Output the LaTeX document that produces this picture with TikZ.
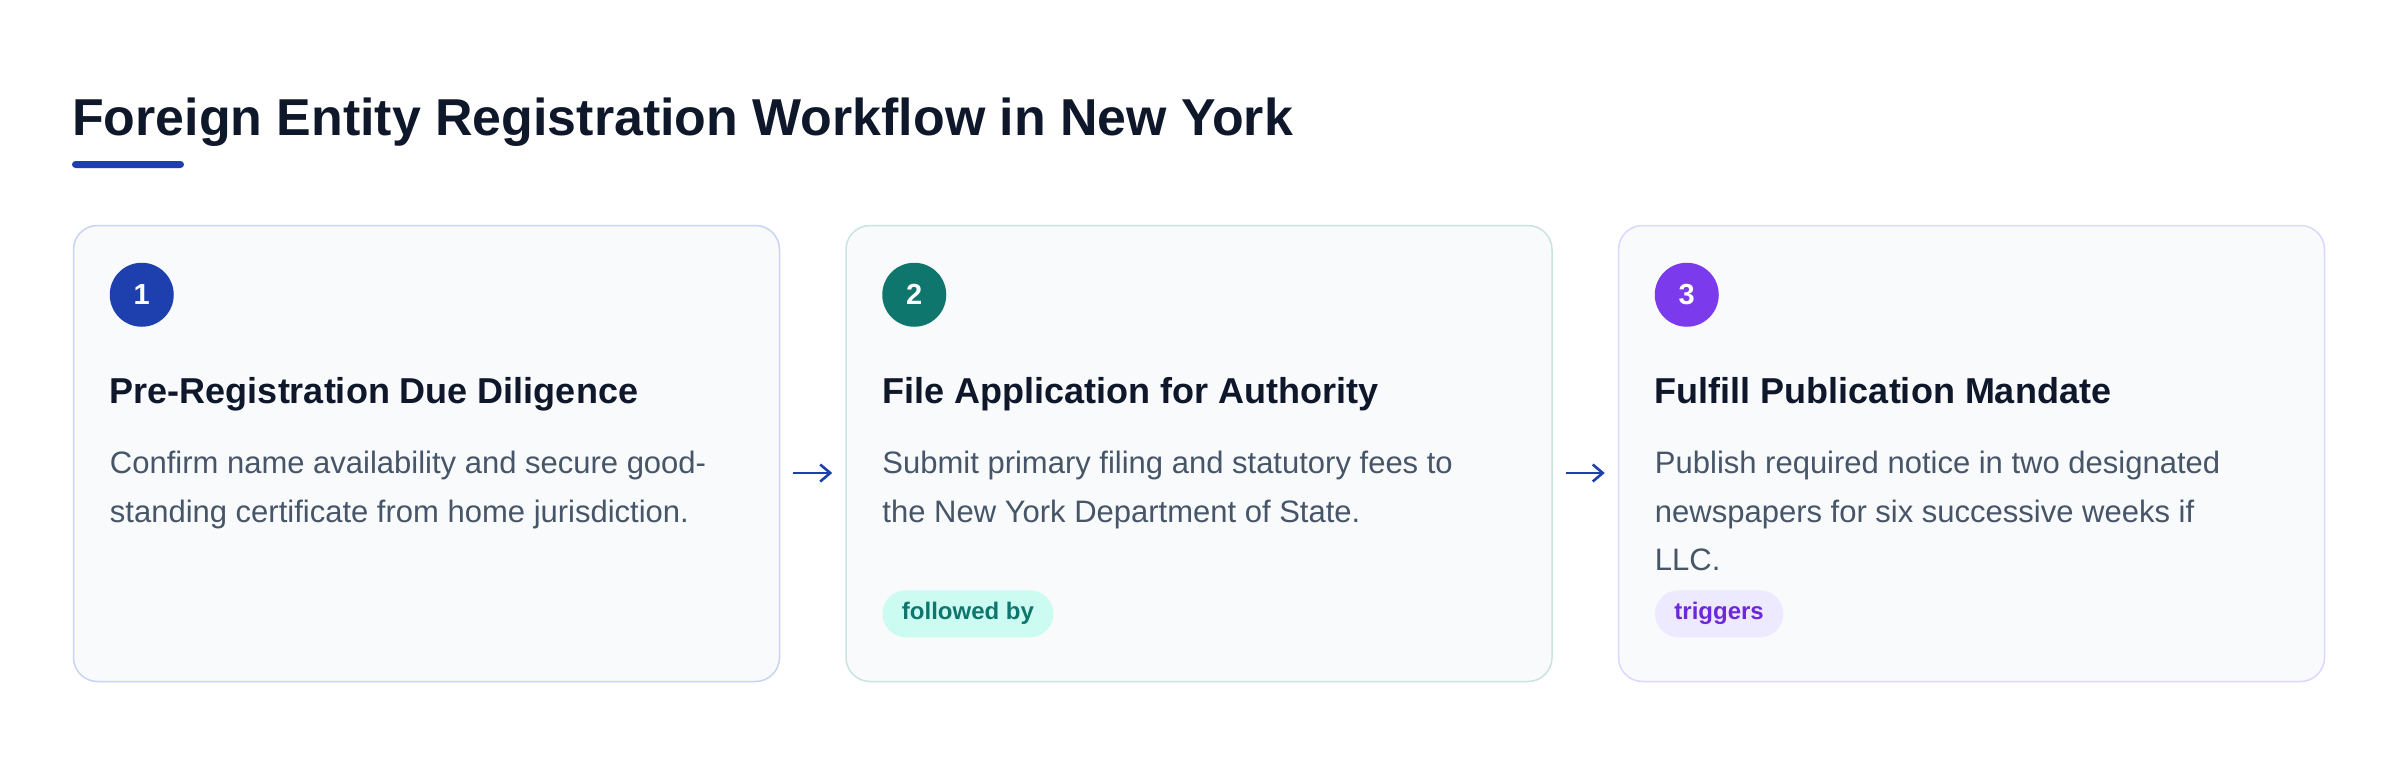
\documentclass[tikz,border=0pt]{standalone}
\usepackage{fontspec}
\setmainfont{Liberation Sans}
\usetikzlibrary{arrows.meta,positioning}
\definecolor{ink}{HTML}{0F172A}
\definecolor{slate}{HTML}{475569}
\definecolor{cardbg}{HTML}{F8FAFC}
\definecolor{blue1}{HTML}{1E40AF}
\definecolor{teal1}{HTML}{0F766E}
\definecolor{violet1}{HTML}{7C3AED}
\definecolor{edge1}{HTML}{C9D3F3}
\definecolor{edge2}{HTML}{C9E3DF}
\definecolor{edge3}{HTML}{DDD6FE}
\definecolor{mint}{HTML}{CCFBF1}
\definecolor{lilac}{HTML}{EDE9FE}
\definecolor{violet2}{HTML}{6D28D9}
\begin{document}
\begin{tikzpicture}[x=1pt,y=-1pt,
    card/.style={draw,line width=1.5pt,fill=cardbg,rounded corners=24pt,minimum width=706pt,minimum height=456pt,inner sep=0pt},
    num/.style={circle,minimum size=64pt,inner sep=0pt,text=white,font=\fontsize{29}{32}\selectfont\bfseries},
    head/.style={anchor=base west,inner sep=0pt,text=ink,font=\fontsize{36}{42}\selectfont\bfseries},
    body/.style={anchor=base west,inner sep=0pt,align=left,text=slate,font=\fontsize{31}{48.5}\selectfont},
    badge/.style={anchor=west,rounded corners=23.5pt,minimum height=47pt,inner xsep=19.5pt,inner ysep=0pt,font=\fontsize{24}{28}\selectfont\bfseries},
    link/.style={-{Straight Barb[length=10pt,width=17pt]},line width=2.6pt,draw=blue1,shorten <=13pt,shorten >=13pt}]

  \useasboundingbox (0,0) rectangle (2400,756);

  \node[anchor=base west,inner sep=0pt,text=ink,font=\fontsize{51.9}{60}\selectfont\bfseries] (title) at (72,135) {Foreign Entity Registration Workflow in New York};
  \node[fill=blue1,minimum width=112pt,minimum height=7pt,inner sep=0pt,rounded corners=3.5pt] (bar) at (128,164.5) {};

  \node[card,draw=edge1,anchor=north west] (s1) at (72.75,224.75) {};
  \node[card,draw=edge2,right=65pt of s1] (s2) {};
  \node[card,draw=edge3,right=65pt of s2] (s3) {};

  \node[num,fill=blue1] (n1) at ([shift={(69pt,-70pt)}]s1.north west) {1};
  \node[num,fill=teal1] (n2) at ([shift={(69pt,-70pt)}]s2.north west) {2};
  \node[num,fill=violet1] (n3) at ([shift={(69pt,-70pt)}]s3.north west) {3};

  \node[head] (h1) at ([shift={(37pt,-179pt)}]s1.north west) {Pre-Registration Due Diligence};
  \node[head] (h2) at ([shift={(37pt,-179pt)}]s2.north west) {File Application for Authority};
  \node[head] (h3) at ([shift={(37pt,-179pt)}]s3.north west) {Fulfill Publication Mandate};

  \node[body] (b1) at ([shift={(37pt,-297.5pt)}]s1.north west) {Confirm name availability and secure good-\\standing certificate from home jurisdiction.};
  \node[body] (b2) at ([shift={(37pt,-297.5pt)}]s2.north west) {Submit primary filing and statutory fees to\\the New York Department of State.};
  \node[body] (b3) at ([shift={(37pt,-346pt)}]s3.north west) {Publish required notice in two designated\\newspapers for six successive weeks if\\LLC.};

  \node[badge,fill=mint,text=teal1] (t2) at ([shift={(37pt,-389pt)}]s2.north west) {followed by};
  \node[badge,fill=lilac,text=violet2] (t3) at ([shift={(37pt,-389pt)}]s3.north west) {triggers};

  \draw[link] ([yshift=-19.5pt]s1.east) -- ([yshift=-19.5pt]s2.west);
  \draw[link] ([yshift=-19.5pt]s2.east) -- ([yshift=-19.5pt]s3.west);

\end{tikzpicture}
\end{document}
